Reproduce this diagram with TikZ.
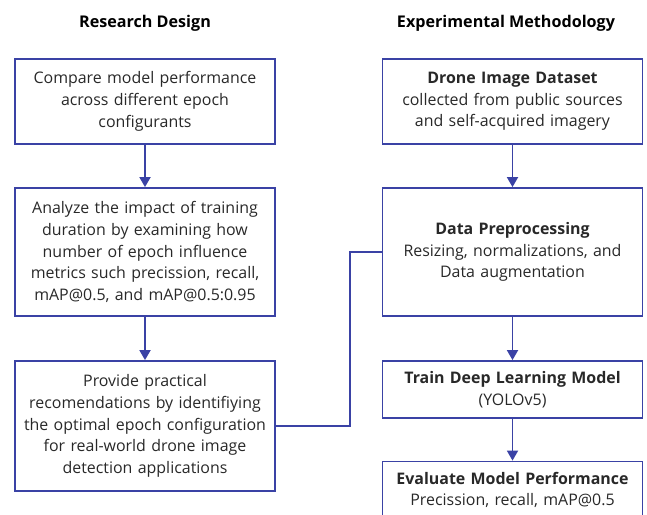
\documentclass[tikz,border=0pt]{standalone}
\usepackage{fontspec}
\setmainfont{Open Sans}
\usepackage{tikz}
\usetikzlibrary{arrows.meta}
\usepackage{xcolor}
\definecolor{boxblue}{RGB}{58,66,165}
\definecolor{txtgray}{RGB}{40,40,40}

\begin{document}
\begin{tikzpicture}[x=1bp,y=1bp,
  box/.style={draw=boxblue,line width=1.8bp,text=txtgray,align=center,
    text width=252bp,inner sep=4bp,
    font=\fontsize{16}{21.8}\selectfont},
  head/.style={text=black,font=\fontsize{16.2}{18}\selectfont\bfseries},
  link/.style={draw=boxblue,line width=1.8bp},
  >={Triangle[width=11bp,length=10bp]}]
\useasboundingbox (0,0) rectangle (647,-515);
% titles
\node[head] (t1) at (145,-23) {Research Design};
\node[head] (t2) at (506,-23) {Experimental Methodology};
% research design
\node[box,minimum height=85bp]  (rd1) at (145,-101.5) {Compare model performance\\ across different epoch\\ configurants};
\node[box,minimum height=128bp] (rd2) at (145,-252) {Analyze the impact of training\\ duration by examining how\\ number of epoch influence\\ metrics such precission, recall,\\ mAP@0.5, and mAP@0.5:0.95};
\node[box,minimum height=130bp] (rd3) at (145,-426) {Provide practical\\ recomendations by identifiying\\ the optimal epoch configuration\\ for real-world drone image\\ detection applications};
% experimental methodology
\node[box,minimum height=85bp]  (ep1) at (512.5,-101.5) {\textbf{Drone Image Dataset}\\ collected from public sources\\ and self-acquired imagery};
\node[box,minimum height=128bp] (ep2) at (512.5,-252) {\textbf{Data Preprocessing}\\ Resizing, normalizations, and\\ Data augmentation};
\node[box,minimum height=57bp]  (ep3) at (512.5,-389.5) {\textbf{Train Deep Learning Model}\\ (YOLOv5)};
\node[box,minimum height=57bp]  (ep4) at (512.5,-490) {\textbf{Evaluate Model Performance}\\ Precission, recall, mAP@0.5};
% arrows
\foreach \a/\b in {rd1/rd2,rd2/rd3,ep1/ep2,ep2/ep3,ep3/ep4}
  \draw[link,->] (\a) -- (\b);
\coordinate (bend) at (350,0);
\draw[link] (rd3.east) -- (rd3.east -| bend) |- (ep2.west);
\end{tikzpicture}
\end{document}
